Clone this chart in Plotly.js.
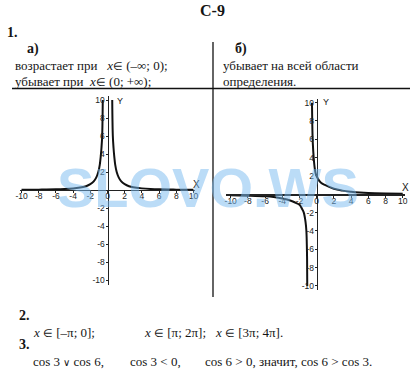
<!DOCTYPE html>
<html><head><meta charset="utf-8">
<script src="https://cdn.plot.ly/plotly-3.0.1.min.js"></script>
<style>html,body{margin:0;padding:0;background:#fff;}#c{width:416px;height:381px;}</style>
</head><body><div id="c"></div>
<script>
// Graph a) data (read from picture)
const xA = [-10,-8,-6,-5,-4,-3,-2.5,-2,-1.6,-1.3,-1.07,-0.9,-0.78,-0.7,-0.62,-0.55,null,0.55,0.62,0.7,0.78,0.9,1.07,1.3,1.6,2,2.5,3,4,5,6,8,10];
const yA = [0.02,0.04,0.07,0.11,0.18,0.3,0.42,0.65,0.95,1.4,2,2.8,3.8,4.7,6,10,null,10,6,4.7,3.8,2.8,2,1.4,0.95,0.65,0.42,0.3,0.18,0.11,0.07,0.04,0.02];
// Graph б) data
const xB = [-10,-8,-6,-5,-4,-3,-2.5,-2,-1.7,-1.5,-1.3,-1.2,-1.15,-1.12,-1.1,null,-0.55,-0.52,-0.5,-0.45,-0.35,-0.25,-0.1,0.2,0.5,1,2,3,4,5,6,8,10];
const yB = [-0.1,-0.15,-0.22,-0.3,-0.45,-0.7,-0.9,-1.15,-1.6,-2,-3,-4,-5.5,-7,-10,null,10,8,7,5.5,4,3,2.2,1.6,1.25,1.0,0.6,0.4,0.28,0.2,0.15,0.1,0.07];
const xTicks = [-10,-8,-6,-4,-2,0,2,4,6,8,10];
const xTickText = ['-10','-8','-6','-4','-2','0','2','4','6','8','10'];
const yTicks = [-10,-8,-6,-4,-2,2,4,6,8,10];
const yTickText = ['-10','-8','-6','-4','-2','2','4','6','8','10'];

const W=416,H=381;
const px=x=>x/W, py=y=>1-y/H;
const serif='"Liberation Serif", "Times New Roman", serif';
const sans='"Liberation Sans", Arial, sans-serif';
const EL='<span style="font-size:11px">∈</span>';

function T(text,x,y,opt){
  opt=opt||{};
  return {text:text,x:px(x),y:py(y),xref:'paper',yref:'paper',showarrow:false,
    xanchor:opt.xa||'left',yanchor:'middle',
    font:{family:opt.fam||serif,size:opt.size||13,color:opt.color||'#151515',weight:opt.bold?'bold':'normal'}};
}

const axX=(dom,rng,pos)=>({domain:dom,range:rng,anchor:'free',position:pos,showgrid:false,zeroline:false,
  showline:true,linecolor:'#222',linewidth:1.2,tickvals:xTicks,ticktext:xTickText,ticks:'outside',ticklen:2,tickcolor:'#222',
  ticklabelstandoff:-4,tickfont:{family:sans,size:8.5,color:'#222'},fixedrange:true});
const axY=(dom,rng,pos)=>({domain:dom,range:rng,anchor:'free',position:pos,showgrid:false,zeroline:false,
  showline:true,linecolor:'#222',linewidth:1.2,tickvals:yTicks,ticktext:yTickText,ticks:'outside',ticklen:2,tickcolor:'#222',
  ticklabelstandoff:-1,tickfont:{family:sans,size:8.5,color:'#222'},fixedrange:true});

const Lx0=19.8,Lx1=195.2,Ly0=95.5,Ly1=284.5;
const Rx0=226.4,Rx1=405.3,Ry0=99,Ry1=289.6;
const lxr=[-10.2,10.2], lyr=[-10.5,10.5], rxr=[-10.5,10.3], ryr=[-10.4,10.4];
const LdomX=[px(Lx0),px(Lx1)], LdomY=[py(Ly1),py(Ly0)];
const RdomX=[px(Rx0),px(Rx1)], RdomY=[py(Ry1),py(Ry0)];
const posOf=(dom,rng)=>dom[0]+(dom[1]-dom[0])*(0-rng[0])/(rng[1]-rng[0]);

const data=[
 {x:xA,y:yA,xaxis:'x',yaxis:'y',mode:'lines',line:{color:'#111',width:2,shape:'spline'},hoverinfo:'skip'},
 {x:xB,y:yB,xaxis:'x2',yaxis:'y2',mode:'lines',line:{color:'#111',width:2,shape:'spline'},hoverinfo:'skip'}
];

const layout={
 width:W,height:H,margin:{l:0,r:0,t:0,b:0},paper_bgcolor:'#fff',plot_bgcolor:'rgba(0,0,0,0)',showlegend:false,
 xaxis:axX(LdomX,lxr,posOf(LdomY,lyr)),
 yaxis:axY(LdomY,lyr,posOf(LdomX,lxr)),
 xaxis2:axX(RdomX,rxr,posOf(RdomY,ryr)),
 yaxis2:axY(RdomY,ryr,posOf(RdomX,rxr)),
 shapes:[
  {type:'line',xref:'paper',yref:'paper',x0:px(12),x1:px(410),y0:py(88.5),y1:py(88.5),line:{color:'#111',width:1.3}},
  {type:'line',xref:'paper',yref:'paper',x0:px(213),x1:px(213),y0:py(42),y1:py(297),line:{color:'#111',width:1.3}}
 ],
 annotations:[
  T('С-9',213,10,{xa:'center',size:16,bold:true}),
  T('1.',5,33,{size:14,bold:true}),
  T('а)',25,49,{size:14,bold:true}),
  T('возрастает при   <i>x</i>'+EL+' (–∞; 0);',13,65),
  T('убывает при  <i>x</i>'+EL+' (0; +∞);',13,81),
  T('б)',233,49,{size:14,bold:true}),
  T('убывает на всей области',221,65),
  T('определения.',221,81),
  T('Y',115,101,{fam:sans,size:9}),
  T('X',196,184,{fam:sans,size:10,xa:'center'}),
  T('Y',321,102,{fam:sans,size:9}),
  T('X',405,187,{fam:sans,size:10,xa:'center'}),
  T('2.',17,315,{size:14,bold:true}),
  T('<i>x</i> '+EL+' [–π; 0];',31,332),
  T('<i>x</i> '+EL+' [π; 2π];',142,332),
  T('<i>x</i> '+EL+' [3π; 4π].',213,332),
  T('3.',17,344,{size:14,bold:true}),
  T('cos 3 <span style="font-size:10px">∨</span> cos 6,',31,361),
  T('cos 3 < 0,',128,361),
  T('cos 6 > 0, значит, cos 6 > cos 3.',203,361),
  {text:'SLOVO.WS',x:px(208),y:py(188),xref:'paper',yref:'paper',showarrow:false,xanchor:'center',yanchor:'middle',
   font:{family:sans,size:56,color:'rgba(120,185,240,0.5)',weight:'bold'}}
 ]
};
Plotly.newPlot('c',data,layout,{staticPlot:true,displayModeBar:false});
</script></body></html>
